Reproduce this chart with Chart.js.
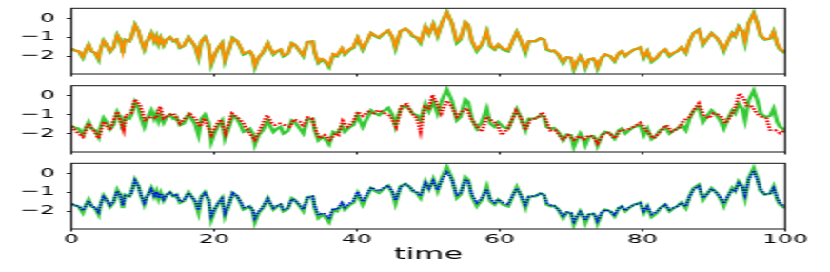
<!DOCTYPE html>
<html>
<head>
<meta charset="utf-8">
<script src="https://cdn.jsdelivr.net/npm/chart.js@4.4.1/dist/chart.umd.min.js"></script>
<style>
  html, body { margin: 0; padding: 0; background: #fff; overflow: hidden; }
  /* the reference figure is stretched sideways, so draw narrow and scale x */
  #stage { position: relative; width: 436px; height: 272px; transform: scale(1.9037, 1); transform-origin: 0 0; }
  #stage canvas { position: absolute; left: 0; }
</style>
</head>
<body>
<div id="stage">
  <canvas id="p1" width="436" height="80" style="top:0;width:436px;height:80px"></canvas>
  <canvas id="p2" width="436" height="78" style="top:80px;width:436px;height:78px"></canvas>
  <canvas id="p3" width="436" height="114" style="top:158px;width:436px;height:114px"></canvas>
</div>
<script>
// true signal (green) and the orange / blue estimates, same sample times
const trueT = [
  0, 0.5, 1.0, 1.6, 1.9, 2.4, 2.8, 3.3, 3.8, 4.0,
  4.5, 4.9, 5.4, 5.9, 6.4, 6.8, 7.2, 7.5, 8.1, 8.4,
  8.9, 9.4, 9.7, 10.2, 10.6, 11.2, 11.6, 11.9, 12.2, 12.5,
  12.9, 13.3, 13.8, 14.3, 14.7, 15.2, 15.7, 16.4, 16.8, 17.3,
  17.8, 18.2, 18.7, 19.2, 19.6, 20.1, 20.6, 21.1, 21.5, 22.0,
  22.6, 23.2, 23.7, 24.1, 24.6, 25.0, 25.4, 25.7, 26.2, 26.8,
  27.5, 27.8, 28.3, 28.8, 29.3, 29.7, 30.3, 30.9, 31.3, 32.0,
  32.5, 33.1, 33.8, 34.1, 34.6, 35.1, 35.5, 36.1, 36.7, 37.2,
  37.9, 38.3, 39.0, 39.5, 40.1, 40.8, 41.4, 42.0, 42.6, 43.1,
  43.7, 44.4, 45.0, 45.4, 46.1, 46.8, 47.4, 47.8, 48.4, 48.9,
  49.6, 50.1, 50.7, 51.3, 51.9, 52.6, 53.3, 54.0, 54.5, 55.2,
  55.6, 56.1, 56.8, 57.5, 58.2, 58.7, 59.3, 59.8, 60.5, 61.2,
  61.8, 62.4, 62.9, 63.6, 64.1, 65.0, 65.7, 66.2, 66.6, 67.2,
  67.6, 68.2, 68.9, 69.4, 70.0, 70.4, 70.8, 71.3, 71.7, 72.0,
  72.5, 73.1, 73.4, 73.7, 74.3, 74.8, 75.5, 76.1, 76.7, 77.1,
  77.6, 78.1, 78.8, 79.3, 79.7, 80.2, 80.7, 81.3, 82.0, 82.5,
  83.2, 83.8, 84.4, 84.9, 85.5, 86.1, 86.6, 87.2, 87.9, 88.5,
  89.0, 89.7, 90.4, 90.9, 91.4, 92.0, 92.6, 93.0, 93.5, 94.0,
  94.4, 94.9, 95.6, 96.1, 96.6, 97.2, 97.9, 98.4, 98.9, 99.3,
  100
];

const trueV = [
  -1.61, -1.71, -1.75, -2.1, -1.78, -1.4, -1.75, -1.84, -2.19, -1.75,
  -1.18, -1.4, -1.78, -1.54, -0.87, -1.13, -1.84, -1.13, -1.22, -1.0,
  -0.34, -0.69, -1.13, -1.66, -1.22, -0.78, -1.22, -0.95, -1.36, -1.04,
  -1.43, -1.13, -1.0, -1.22, -1.13, -1.57, -1.48, -1.0, -1.22, -1.48,
  -2.1, -1.22, -1.0, -1.4, -2.45, -1.92, -1.57, -1.31, -2.28, -1.75,
  -1.04, -1.22, -1.57, -1.92, -1.84, -1.75, -2.01, -2.59, -2.1, -1.84,
  -1.31, -1.57, -1.92, -1.75, -1.66, -2.01, -1.89, -1.31, -1.4, -1.75,
  -2.01, -1.25, -1.22, -1.84, -2.37, -2.19, -2.28, -2.59, -1.92, -2.01,
  -1.61, -1.92, -1.66, -1.57, -1.04, -1.66, -1.22, -0.78, -0.95, -1.04,
  -0.83, -0.65, -1.04, -1.61, -0.69, -0.55, -0.72, -0.95, -1.04, -1.31,
  -0.43, -0.83, -0.3, -0.95, -0.25, 0.33, -0.25, -1.31, -1.13, -0.2,
  -0.34, -1.22, -1.75, -1.4, -0.69, -1.48, -1.66, -1.4, -1.66, -1.75,
  -1.22, -0.72, -1.13, -1.84, -1.22, -1.22, -1.06, -1.13, -1.66, -1.75,
  -1.71, -1.92, -2.37, -2.07, -2.1, -2.72, -2.37, -2.01, -2.28, -2.63,
  -2.19, -2.14, -2.28, -2.66, -2.1, -1.92, -2.01, -2.28, -1.84, -1.75,
  -2.01, -1.84, -1.66, -1.61, -1.54, -2.1, -1.75, -2.31, -2.1, -1.84,
  -1.66, -2.01, -1.84, -1.75, -1.54, -1.84, -1.22, -0.78, -0.6, -1.4,
  -1.13, -0.78, -1.04, -1.31, -1.75, -1.22, -0.78, -0.95, -0.43, -0.69,
  -1.31, -0.25, 0.28, -0.25, -0.95, -1.13, -1.08, -0.69, -1.4, -1.66,
  -1.84
];

const orangeV = [
  -1.62, -1.7, -1.74, -2.04, -1.76, -1.42, -1.72, -1.82, -2.12, -1.72,
  -1.2, -1.38, -1.74, -1.52, -0.9, -1.12, -1.76, -1.15, -1.2, -1.02,
  -0.36, -0.7, -1.1, -1.6, -1.2, -0.8, -1.2, -0.96, -1.32, -1.04,
  -1.4, -1.12, -1.02, -1.18, -1.12, -1.52, -1.46, -1.02, -1.2, -1.45,
  -2.02, -1.22, -1.02, -1.38, -2.36, -1.88, -1.56, -1.32, -2.2, -1.72,
  -1.06, -1.2, -1.54, -1.86, -1.8, -1.74, -1.96, -2.5, -2.06, -1.82,
  -1.32, -1.55, -1.86, -1.72, -1.64, -1.95, -1.86, -1.32, -1.4, -1.72,
  -1.94, -1.26, -1.22, -1.78, -2.3, -2.14, -2.22, -2.5, -1.88, -1.96,
  -1.58, -1.86, -1.62, -1.52, -1.02, -1.58, -1.18, -0.78, -0.92, -1.0,
  -0.8, -0.64, -1.0, -1.5, -0.68, -0.54, -0.72, -0.9, -1.0, -1.24,
  -0.44, -0.8, -0.32, -0.9, -0.26, 0.3, -0.22, -1.2, -1.08, -0.22,
  -0.36, -1.16, -1.65, -1.36, -0.7, -1.4, -1.6, -1.38, -1.6, -1.68,
  -1.2, -0.74, -1.1, -1.72, -1.22, -1.2, -1.06, -1.12, -1.6, -1.72,
  -1.7, -1.9, -2.3, -2.06, -2.08, -2.62, -2.32, -2.02, -2.24, -2.55,
  -2.18, -2.12, -2.24, -2.58, -2.08, -1.9, -2.0, -2.24, -1.82, -1.74,
  -1.98, -1.82, -1.66, -1.6, -1.54, -2.04, -1.74, -2.24, -2.06, -1.82,
  -1.64, -1.96, -1.82, -1.74, -1.52, -1.8, -1.2, -0.8, -0.62, -1.34,
  -1.14, -0.8, -1.02, -1.28, -1.66, -1.2, -0.8, -0.92, -0.46, -0.7,
  -1.2, -0.28, 0.24, -0.28, -0.9, -1.1, -1.06, -0.72, -1.32, -1.62,
  -1.8
];

const blueV = [
  -1.62, -1.7, -1.74, -1.98, -1.78, -1.46, -1.72, -1.82, -2.06, -1.74,
  -1.24, -1.38, -1.7, -1.5, -0.94, -1.14, -1.7, -1.18, -1.2, -1.04,
  -0.38, -0.7, -1.1, -1.56, -1.22, -0.84, -1.18, -0.98, -1.3, -1.06,
  -1.38, -1.14, -1.02, -1.18, -1.14, -1.5, -1.46, -1.04, -1.22, -1.44,
  -1.95, -1.25, -1.05, -1.4, -2.25, -1.86, -1.56, -1.34, -2.12, -1.7,
  -1.04, -1.2, -1.52, -1.82, -1.78, -1.74, -1.94, -2.38, -2.04, -1.8,
  -1.34, -1.54, -1.84, -1.72, -1.64, -1.92, -1.84, -1.36, -1.42, -1.7,
  -1.9, -1.3, -1.22, -1.74, -2.22, -2.1, -2.16, -2.36, -1.86, -1.92,
  -1.56, -1.8, -1.58, -1.46, -0.98, -1.5, -1.1, -0.74, -0.86, -0.94,
  -0.78, -0.64, -0.98, -1.44, -0.72, -0.58, -0.72, -0.88, -1.0, -1.2,
  -0.5, -0.8, -0.4, -0.88, -0.34, 0.05, -0.3, -1.16, -1.08, -0.32,
  -0.42, -1.12, -1.56, -1.34, -0.84, -1.36, -1.56, -1.38, -1.56, -1.64,
  -1.2, -0.8, -1.1, -1.66, -1.24, -1.2, -1.08, -1.14, -1.56, -1.7,
  -1.7, -1.9, -2.26, -2.06, -2.1, -2.55, -2.3, -2.04, -2.22, -2.5,
  -2.18, -2.14, -2.24, -2.52, -2.08, -1.92, -2.02, -2.2, -1.84, -1.76,
  -1.98, -1.82, -1.68, -1.62, -1.58, -2.0, -1.76, -2.18, -2.04, -1.84,
  -1.66, -1.94, -1.82, -1.74, -1.56, -1.76, -1.24, -0.84, -0.68, -1.3,
  -1.14, -0.82, -1.02, -1.26, -1.6, -1.2, -0.84, -0.92, -0.52, -0.72,
  -1.16, -0.34, 0.14, -0.32, -0.9, -1.1, -1.06, -0.78, -1.3, -1.6,
  -1.78
];

// the red estimate wanders more, so it keeps its own sample times
const redT = [
  0, 0.7, 1.6, 2.4, 3.0, 3.3, 3.8, 4.5, 5.4, 6.4,
  7.3, 7.6, 8.4, 8.9, 9.6, 10.3, 11.2, 11.9, 12.4, 12.9,
  13.6, 14.3, 15.2, 15.9, 16.6, 17.5, 18.0, 18.6, 19.6, 20.3,
  20.9, 21.6, 22.5, 23.4, 24.1, 24.8, 25.7, 26.4, 27.4, 28.1,
  28.5, 29.2, 29.9, 30.6, 31.2, 32.0, 32.5, 33.1, 33.7, 34.4,
  34.8, 35.5, 36.2, 37.0, 37.4, 38.0, 38.7, 39.5, 40.1, 40.8,
  41.6, 42.3, 43.0, 43.7, 44.7, 45.5, 46.3, 47.0, 47.7, 48.4,
  48.9, 49.5, 50.1, 50.6, 51.2, 51.8, 52.6, 53.3, 54.0, 54.7,
  55.4, 56.1, 56.8, 57.5, 58.2, 58.9, 59.6, 60.3, 61.2, 62.3,
  62.9, 63.6, 64.3, 65.2, 66.0, 66.6, 67.1, 67.8, 68.2, 68.9,
  69.6, 70.4, 71.1, 71.8, 72.5, 73.2, 73.7, 74.6, 75.3, 76.1,
  76.9, 77.8, 78.8, 79.7, 80.5, 81.6, 82.5, 83.4, 84.1, 85.1,
  85.8, 86.5, 87.2, 87.9, 88.6, 89.3, 90.0, 90.9, 91.6, 92.3,
  93.0, 93.6, 94.2, 94.7, 95.4, 96.0, 96.7, 97.4, 97.9, 98.6,
  99.3, 100
];

const redV = [
  -1.62, -1.91, -2.18, -1.47, -1.79, -1.91, -2.27, -1.38, -1.82, -0.85,
  -1.82, -1.03, -0.94, -0.19, -0.5, -1.29, -1.12, -1.2, -0.58, -1.2,
  -1.03, -0.94, -1.47, -1.2, -0.97, -1.29, -1.65, -1.2, -2.09, -1.56,
  -1.26, -2.0, -0.94, -1.2, -1.47, -1.91, -2.35, -1.82, -1.03, -1.47,
  -1.56, -1.47, -1.56, -1.65, -1.26, -1.38, -1.65, -1.15, -1.2, -2.0,
  -2.27, -2.09, -2.35, -2.0, -2.09, -1.33, -1.65, -1.38, -0.85, -1.08,
  -0.85, -0.94, -0.76, -0.9, -1.08, -1.65, -0.5, -0.44, -0.94, -1.2,
  -1.91, -0.58, -0.67, 0.04, -0.41, -0.94, -0.27, -0.58, -1.12, -0.85,
  -0.67, -1.29, -1.65, -1.91, -1.12, -1.33, -1.47, -2.09, -1.73, -0.8,
  -1.12, -1.82, -1.26, -1.2, -0.88, -1.4, -1.85, -1.82, -2.0, -2.32,
  -2.09, -2.35, -2.14, -2.32, -2.09, -2.21, -2.53, -2.0, -1.96, -2.27,
  -1.82, -1.82, -1.65, -1.43, -1.82, -2.27, -1.91, -1.56, -1.91, -1.73,
  -1.29, -1.2, -0.76, -0.41, -1.03, -1.2, -0.94, -1.03, -1.47, -1.12,
  -0.67, 0.12, -0.14, -0.58, -0.58, -0.94, -1.12, -1.2, -1.82, -1.82,
  -2.0, -1.82
];

const xTicks = [0, 20, 40, 60, 80, 100];
const yTicks = [-2, -1, 0];

const FONT = "'DejaVu Sans', sans-serif";
const GREEN = "#34c934";

const toPoints = (ts, vs) => ts.map((t, i) => ({ x: t, y: vs[i] }));

// matplotlib-style box around each axes
const framePlugin = {
  id: "frame",
  afterDraw(chart) {
    const { ctx, chartArea: a } = chart;
    ctx.save();
    ctx.strokeStyle = "#111";
    ctx.lineWidth = 1;
    ctx.strokeRect(a.left, a.top, a.width, a.height);
    ctx.restore();
  },
};

const minusLabel = (v) => (v < 0 ? "\u2212" + Math.abs(v) : String(v));

// stop the label overhang from shrinking the plot area
const noOverhang = (s) => {
  s.paddingTop = 0;
  s.paddingBottom = 0;
  s.paddingLeft = 0;
  s.paddingRight = 0;
};

const buildPanel = (id, opts) => {
  const overlay = {
    data: toPoints(opts.overlayT, opts.overlayV),
    borderColor: opts.color,
    borderWidth: opts.width,
    borderDash: opts.dash || [],
    pointRadius: 0,
    tension: 0,
    fill: false,
  };
  const truth = {
    data: toPoints(trueT, trueV),
    borderColor: GREEN,
    borderWidth: 2.2,
    pointRadius: 0,
    tension: 0,
    fill: false,
  };

  return new Chart(document.getElementById(id), {
    type: "line",
    data: { datasets: [overlay, truth] },
    options: {
      responsive: false,
      animation: false,
      events: [],
      layout: { padding: { top: opts.top, right: 23.6, bottom: 0, left: 0 } },
      plugins: { legend: { display: false }, tooltip: { enabled: false } },
      scales: {
        x: {
          type: "linear",
          min: 0,
          max: 100,
          afterBuildTicks: (s) => { s.ticks = xTicks.map((v) => ({ value: v })); },
          afterFit: (s) => { s.height = opts.xHeight; noOverhang(s); },
          grid: { drawOnChartArea: false, tickLength: 2.5, color: "#222" },
          border: { display: false },
          ticks: {
            display: opts.labels,
            padding: 1,
            maxRotation: 0,
            color: "#000",
            font: { family: FONT, size: 12.5 },
          },
          title: {
            display: opts.labels,
            text: "time",
            color: "#000",
            font: { family: FONT, size: 16 },
            padding: { top: 0, bottom: 8 },
          },
        },
        y: {
          min: opts.ymin,
          max: opts.ymax,
          afterBuildTicks: (s) => { s.ticks = yTicks.map((v) => ({ value: v })); },
          afterFit: (s) => { s.width = 37.56; noOverhang(s); },
          grid: { drawOnChartArea: false, tickLength: 2.6, color: "#222" },
          border: { display: false },
          ticks: {
            padding: 6,
            color: "#000",
            font: { family: FONT, size: 12.5 },
            callback: minusLabel,
          },
        },
      },
    },
    plugins: [framePlugin],
  });
};

Chart.defaults.font.family = FONT;

buildPanel("p1", {
  overlayT: trueT, overlayV: orangeV, color: "#ff8c00", width: 1.8,
  top: 8.3, xHeight: 6, ymin: -2.95, ymax: 0.53, labels: false,
});
buildPanel("p2", {
  overlayT: redT, overlayV: redV, color: "#ff0000", width: 2, dash: [1.6, 1.4],
  top: 5.7, xHeight: 6, ymin: -2.99, ymax: 0.53, labels: false,
});
buildPanel("p3", {
  overlayT: trueT, overlayV: blueV, color: "#0000ff", width: 1.6, dash: [1.4, 1.2],
  top: 5.3, xHeight: 43, ymin: -2.95, ymax: 0.53, labels: true,
});
</script>
</body>
</html>
